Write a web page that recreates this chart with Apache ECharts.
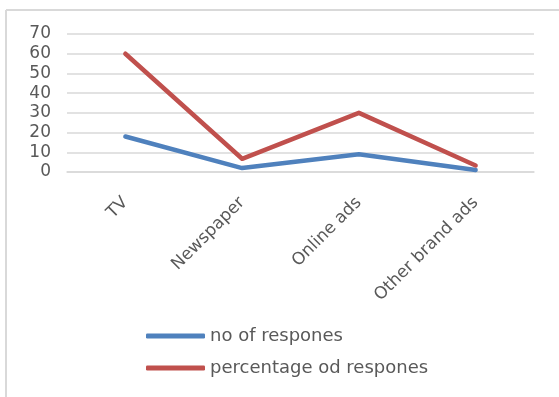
<!DOCTYPE html>
<html>
<head>
<meta charset="utf-8">
<script src="https://cdn.jsdelivr.net/npm/echarts@6/dist/echarts.min.js"></script>
<style>
  html, body { margin: 0; padding: 0; background: #fff; overflow: hidden; }
  #chart { width: 559px; height: 397px; }
</style>
</head>
<body>
<div id="chart"></div>
<script>
// Advertising channels and survey responses
const categories = ['TV', 'Newspaper', 'Online ads', 'Other brand ads'];
const responseCounts = [18, 2, 9, 1];
const responsePercents = [60, 6.7, 30, 3.3];
const seriesNames = ['no of respones', 'percentage od respones'];
const yTicks = { min: 0, max: 70, interval: 10 };

const textColor = '#595959';
const gridColor = '#d9d9d9';
const font = 'DejaVu Sans';

const chart = echarts.init(document.getElementById('chart'), null, { renderer: 'canvas' });

chart.setOption({
  backgroundColor: '#ffffff',
  animation: false,
  // chart-area frame: only its top and left edges fall inside the canvas
  graphic: [
    {
      type: 'line',
      shape: { x1: 6, y1: 10, x2: 559, y2: 10 },
      style: { stroke: gridColor, lineWidth: 2 },
      silent: true
    },
    {
      type: 'line',
      shape: { x1: 6, y1: 10, x2: 6, y2: 397 },
      style: { stroke: gridColor, lineWidth: 2 },
      silent: true
    }
  ],
  grid: { left: 67, right: 25, top: 34, bottom: 225, containLabel: false },
  legend: {
    orient: 'vertical',
    left: 141,
    top: 322,
    itemWidth: 59,
    itemHeight: 5,
    itemGap: 14,
    icon: 'roundRect',
    textStyle: { color: textColor, fontFamily: font, fontSize: 18 },
    data: seriesNames
  },
  xAxis: {
    type: 'category',
    data: categories,
    boundaryGap: true,
    axisLine: { lineStyle: { color: gridColor, width: 1.5 } },
    axisTick: { show: false },
    axisLabel: {
      rotate: 45,
      margin: 28,
      interval: 0,
      color: textColor,
      fontFamily: font,
      fontSize: 17
    }
  },
  yAxis: {
    type: 'value',
    min: yTicks.min,
    max: yTicks.max,
    interval: yTicks.interval,
    axisLine: { show: false },
    axisTick: { show: false },
    splitLine: { lineStyle: { color: gridColor, width: 1.5 } },
    axisLabel: { margin: 16, color: textColor, fontFamily: font, fontSize: 17 }
  },
  series: [
    {
      name: seriesNames[0],
      type: 'line',
      data: responseCounts,
      symbol: 'none',
      color: '#4f81bd',
      lineStyle: { width: 4.5, color: '#4f81bd', cap: 'round', join: 'round' }
    },
    {
      name: seriesNames[1],
      type: 'line',
      data: responsePercents,
      symbol: 'none',
      color: '#c0504d',
      lineStyle: { width: 4.5, color: '#c0504d', cap: 'round', join: 'round' }
    }
  ]
});
</script>
</body>
</html>
